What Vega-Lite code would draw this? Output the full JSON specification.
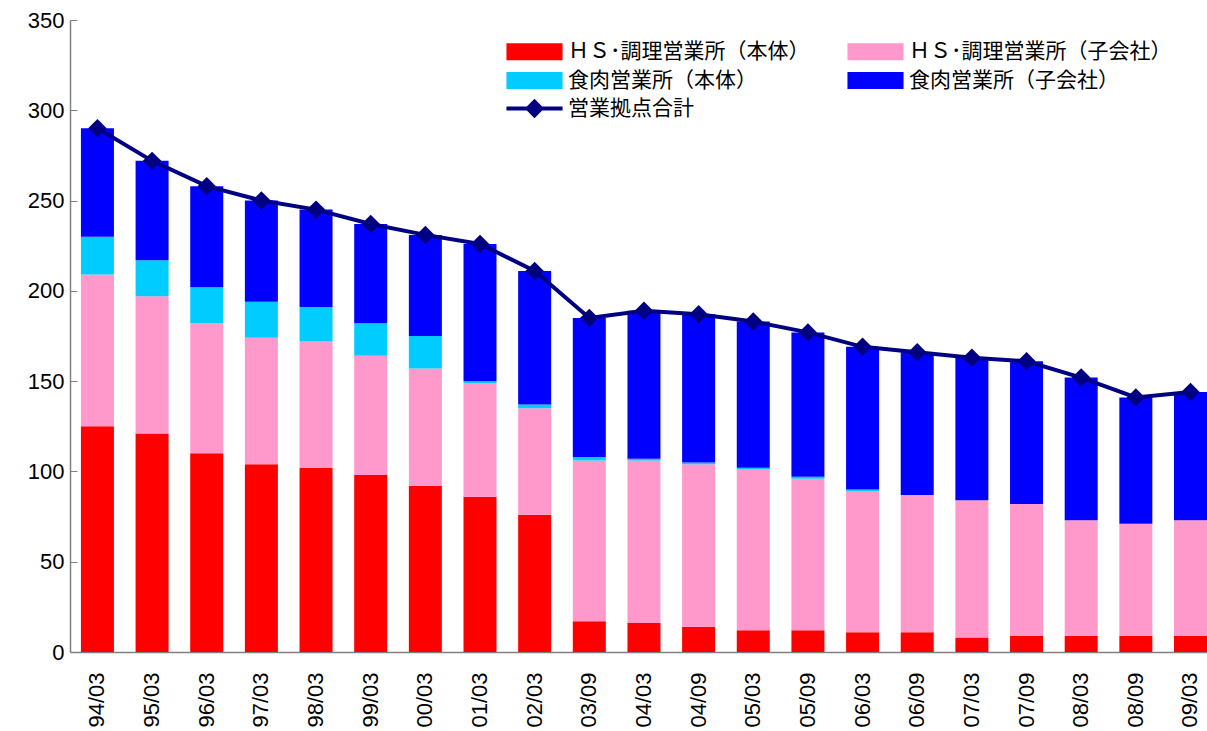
{
  "$schema": "https://vega.github.io/schema/vega-lite/v6.json",
  "width": 1137,
  "height": 632,
  "autosize": {"type": "none"},
  "padding": {"left": 70, "top": 20, "right": 0, "bottom": 79},
  "background": "white",
  "config": {"view": {"stroke": null}, "font": "Liberation Sans"},
  "datasets": {
    "bars": [
      {"period": "94/03", "series": "ＨＳ･調理営業所（本体）", "value": 125},
      {"period": "94/03", "series": "ＨＳ･調理営業所（子会社）", "value": 84},
      {"period": "94/03", "series": "食肉営業所（本体）", "value": 21},
      {"period": "94/03", "series": "食肉営業所（子会社）", "value": 60},
      {"period": "95/03", "series": "ＨＳ･調理営業所（本体）", "value": 121},
      {"period": "95/03", "series": "ＨＳ･調理営業所（子会社）", "value": 76},
      {"period": "95/03", "series": "食肉営業所（本体）", "value": 20},
      {"period": "95/03", "series": "食肉営業所（子会社）", "value": 55},
      {"period": "96/03", "series": "ＨＳ･調理営業所（本体）", "value": 110},
      {"period": "96/03", "series": "ＨＳ･調理営業所（子会社）", "value": 72},
      {"period": "96/03", "series": "食肉営業所（本体）", "value": 20},
      {"period": "96/03", "series": "食肉営業所（子会社）", "value": 56},
      {"period": "97/03", "series": "ＨＳ･調理営業所（本体）", "value": 104},
      {"period": "97/03", "series": "ＨＳ･調理営業所（子会社）", "value": 70},
      {"period": "97/03", "series": "食肉営業所（本体）", "value": 20},
      {"period": "97/03", "series": "食肉営業所（子会社）", "value": 56},
      {"period": "98/03", "series": "ＨＳ･調理営業所（本体）", "value": 102},
      {"period": "98/03", "series": "ＨＳ･調理営業所（子会社）", "value": 70},
      {"period": "98/03", "series": "食肉営業所（本体）", "value": 19},
      {"period": "98/03", "series": "食肉営業所（子会社）", "value": 54},
      {"period": "99/03", "series": "ＨＳ･調理営業所（本体）", "value": 98},
      {"period": "99/03", "series": "ＨＳ･調理営業所（子会社）", "value": 66},
      {"period": "99/03", "series": "食肉営業所（本体）", "value": 18},
      {"period": "99/03", "series": "食肉営業所（子会社）", "value": 55},
      {"period": "00/03", "series": "ＨＳ･調理営業所（本体）", "value": 92},
      {"period": "00/03", "series": "ＨＳ･調理営業所（子会社）", "value": 65},
      {"period": "00/03", "series": "食肉営業所（本体）", "value": 18},
      {"period": "00/03", "series": "食肉営業所（子会社）", "value": 56},
      {"period": "01/03", "series": "ＨＳ･調理営業所（本体）", "value": 86},
      {"period": "01/03", "series": "ＨＳ･調理営業所（子会社）", "value": 63},
      {"period": "01/03", "series": "食肉営業所（本体）", "value": 1},
      {"period": "01/03", "series": "食肉営業所（子会社）", "value": 76},
      {"period": "02/03", "series": "ＨＳ･調理営業所（本体）", "value": 76},
      {"period": "02/03", "series": "ＨＳ･調理営業所（子会社）", "value": 59},
      {"period": "02/03", "series": "食肉営業所（本体）", "value": 2},
      {"period": "02/03", "series": "食肉営業所（子会社）", "value": 74},
      {"period": "03/09", "series": "ＨＳ･調理営業所（本体）", "value": 17},
      {"period": "03/09", "series": "ＨＳ･調理営業所（子会社）", "value": 89},
      {"period": "03/09", "series": "食肉営業所（本体）", "value": 2},
      {"period": "03/09", "series": "食肉営業所（子会社）", "value": 77},
      {"period": "04/03", "series": "ＨＳ･調理営業所（本体）", "value": 16},
      {"period": "04/03", "series": "ＨＳ･調理営業所（子会社）", "value": 90},
      {"period": "04/03", "series": "食肉営業所（本体）", "value": 1},
      {"period": "04/03", "series": "食肉営業所（子会社）", "value": 82},
      {"period": "04/09", "series": "ＨＳ･調理営業所（本体）", "value": 14},
      {"period": "04/09", "series": "ＨＳ･調理営業所（子会社）", "value": 90},
      {"period": "04/09", "series": "食肉営業所（本体）", "value": 1},
      {"period": "04/09", "series": "食肉営業所（子会社）", "value": 82},
      {"period": "05/03", "series": "ＨＳ･調理営業所（本体）", "value": 12},
      {"period": "05/03", "series": "ＨＳ･調理営業所（子会社）", "value": 89},
      {"period": "05/03", "series": "食肉営業所（本体）", "value": 1},
      {"period": "05/03", "series": "食肉営業所（子会社）", "value": 81},
      {"period": "05/09", "series": "ＨＳ･調理営業所（本体）", "value": 12},
      {"period": "05/09", "series": "ＨＳ･調理営業所（子会社）", "value": 84},
      {"period": "05/09", "series": "食肉営業所（本体）", "value": 1},
      {"period": "05/09", "series": "食肉営業所（子会社）", "value": 80},
      {"period": "06/03", "series": "ＨＳ･調理営業所（本体）", "value": 11},
      {"period": "06/03", "series": "ＨＳ･調理営業所（子会社）", "value": 78},
      {"period": "06/03", "series": "食肉営業所（本体）", "value": 1},
      {"period": "06/03", "series": "食肉営業所（子会社）", "value": 79},
      {"period": "06/09", "series": "ＨＳ･調理営業所（本体）", "value": 11},
      {"period": "06/09", "series": "ＨＳ･調理営業所（子会社）", "value": 76},
      {"period": "06/09", "series": "食肉営業所（子会社）", "value": 79},
      {"period": "07/03", "series": "ＨＳ･調理営業所（本体）", "value": 8},
      {"period": "07/03", "series": "ＨＳ･調理営業所（子会社）", "value": 76},
      {"period": "07/03", "series": "食肉営業所（子会社）", "value": 79},
      {"period": "07/09", "series": "ＨＳ･調理営業所（本体）", "value": 9},
      {"period": "07/09", "series": "ＨＳ･調理営業所（子会社）", "value": 73},
      {"period": "07/09", "series": "食肉営業所（子会社）", "value": 79},
      {"period": "08/03", "series": "ＨＳ･調理営業所（本体）", "value": 9},
      {"period": "08/03", "series": "ＨＳ･調理営業所（子会社）", "value": 64},
      {"period": "08/03", "series": "食肉営業所（子会社）", "value": 79},
      {"period": "08/09", "series": "ＨＳ･調理営業所（本体）", "value": 9},
      {"period": "08/09", "series": "ＨＳ･調理営業所（子会社）", "value": 62},
      {"period": "08/09", "series": "食肉営業所（子会社）", "value": 70},
      {"period": "09/03", "series": "ＨＳ･調理営業所（本体）", "value": 9},
      {"period": "09/03", "series": "ＨＳ･調理営業所（子会社）", "value": 64},
      {"period": "09/03", "series": "食肉営業所（子会社）", "value": 71}
    ],
    "totals": [
      {"period": "94/03", "series": "営業拠点合計", "total": 290},
      {"period": "95/03", "series": "営業拠点合計", "total": 272},
      {"period": "96/03", "series": "営業拠点合計", "total": 258},
      {"period": "97/03", "series": "営業拠点合計", "total": 250},
      {"period": "98/03", "series": "営業拠点合計", "total": 245},
      {"period": "99/03", "series": "営業拠点合計", "total": 237},
      {"period": "00/03", "series": "営業拠点合計", "total": 231},
      {"period": "01/03", "series": "営業拠点合計", "total": 226},
      {"period": "02/03", "series": "営業拠点合計", "total": 211},
      {"period": "03/09", "series": "営業拠点合計", "total": 185},
      {"period": "04/03", "series": "営業拠点合計", "total": 189},
      {"period": "04/09", "series": "営業拠点合計", "total": 187},
      {"period": "05/03", "series": "営業拠点合計", "total": 183},
      {"period": "05/09", "series": "営業拠点合計", "total": 177},
      {"period": "06/03", "series": "営業拠点合計", "total": 169},
      {"period": "06/09", "series": "営業拠点合計", "total": 166},
      {"period": "07/03", "series": "営業拠点合計", "total": 163},
      {"period": "07/09", "series": "営業拠点合計", "total": 161},
      {"period": "08/03", "series": "営業拠点合計", "total": 152},
      {"period": "08/09", "series": "営業拠点合計", "total": 141},
      {"period": "09/03", "series": "営業拠点合計", "total": 144}
    ]
  },
  "layer": [
    {
      "data": {"name": "bars"},
      "mark": {"type": "bar"},
      "encoding": {
        "x": {
          "field": "period", "type": "nominal", "sort": null,
          "scale": {"paddingInner": 0.396, "paddingOuter": 0.1, "align": 1},
          "axis": {"title": null, "labelAngle": 270, "labelFontSize": 22, "labelColor": "black", "labelFont": "Liberation Sans", "ticks": false, "labelPadding": 20, "domainColor": "#808080", "domainWidth": 1.5}
        },
        "y": {
          "field": "value", "type": "quantitative", "stack": "zero",
          "scale": {"domain": [0, 350], "nice": false},
          "axis": {"title": null, "values": [0, 50, 100, 150, 200, 250, 300, 350], "grid": false, "labelFontSize": 22, "labelColor": "black", "labelFont": "Liberation Sans", "tickSize": -7, "tickColor": "#808080", "labelPadding": 13, "domainColor": "#808080", "domainWidth": 1.5}
        },
        "color": {
          "field": "series", "type": "nominal",
          "sort": ["ＨＳ･調理営業所（本体）", "ＨＳ･調理営業所（子会社）", "食肉営業所（本体）", "食肉営業所（子会社）"],
          "scale": {"domain": ["ＨＳ･調理営業所（本体）", "ＨＳ･調理営業所（子会社）", "食肉営業所（本体）", "食肉営業所（子会社）"], "range": ["#FF0000", "#FF99CC", "#00CCFF", "#0000FF"]},
          "legend": {"orient": "none", "legendX": 454, "legendY": 21, "columns": 2, "title": null,
            "values": ["ＨＳ･調理営業所（本体）", "食肉営業所（本体）", "ＨＳ･調理営業所（子会社）", "食肉営業所（子会社）"],
            "symbolType": "M-3.3,-1L3.3,-1L3.3,1L-3.3,1Z", "symbolSize": 289, "symbolStrokeWidth": 0, "symbolOpacity": 1, "labelFont": "Noto Sans CJK JP", "labelFontSize": 21, "labelColor": "black", "labelOffset": 23, "rowPadding": 7, "columnPadding": 37, "labelLimit": 400, "padding": 0, "offset": 0}
        }
      }
    },
    {
      "data": {"name": "totals"},
      "mark": {"type": "line", "strokeWidth": 4},
      "encoding": {
        "x": {"field": "period", "type": "nominal", "sort": null},
        "y": {"field": "total", "type": "quantitative"},
        "color": {
          "field": "series", "type": "nominal",
          "scale": {"domain": ["営業拠点合計"], "range": ["#000080"]},
          "legend": {"orient": "none", "legendX": 454, "legendY": 78, "title": null, "symbolType": "M-3.3,0L3.3,0M0,-0.8L0.8,0L0,0.8L-0.8,0Z", "symbolSize": 289, "symbolStrokeWidth": 4, "symbolFillColor": "#000080", "symbolStrokeColor": "#000080", "labelFont": "Noto Sans CJK JP", "labelFontSize": 21, "labelColor": "black", "labelOffset": 23, "labelLimit": 400, "padding": 0, "offset": 0,
            "encode": {"symbols": {"update": {"fill": {"value": "#000080"}, "stroke": {"value": "#000080"}, "strokeWidth": {"value": 4}, "opacity": {"value": 1}}}}}
        }
      }
    },
    {
      "data": {"name": "totals"},
      "mark": {"type": "point", "shape": "diamond", "filled": true, "size": 340, "color": "#000080", "opacity": 1},
      "encoding": {
        "x": {"field": "period", "type": "nominal", "sort": null},
        "y": {"field": "total", "type": "quantitative"}
      }
    }
  ],
  "resolve": {"scale": {"color": "independent"}, "legend": {"color": "independent"}}
}
